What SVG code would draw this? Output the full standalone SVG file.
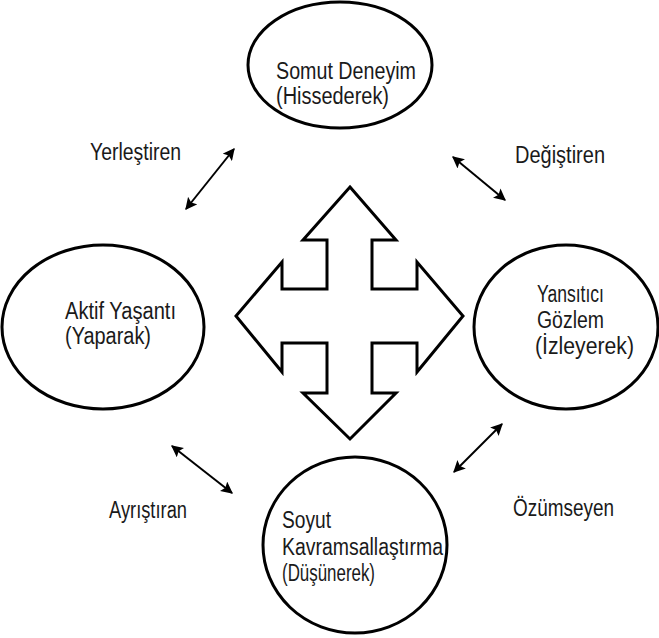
<svg xmlns="http://www.w3.org/2000/svg" width="659" height="638" viewBox="0 0 659 638">
<defs>
<style>
.node ellipse{fill:#fff;stroke:#000;stroke-width:3}
.t{font-family:"Liberation Sans",Arial,sans-serif;font-size:23px;fill:#1a1a1a}
.conn line{stroke:#000;stroke-width:2}
</style>
<marker id="ah" viewBox="0 0 10 10" refX="9" refY="5" markerWidth="6" markerHeight="6" orient="auto-start-reverse" markerUnits="strokeWidth">
<path d="M0,0 L10,5 L0,10 L2,5 Z" fill="#000"/>
</marker>
</defs>
<rect width="659" height="638" fill="#fff"/>
<g id="cross">
<path d="M350,187 L396,240 L372,240 L372,289 L417,289 L417,262 L463,316 L417,372 L417,343 L372,343 L372,393 L396,393 L350,439 L303,393 L327,393 L327,343 L282,343 L282,372 L236,316 L282,262 L282,289 L327,289 L327,240 L303,240 Z" fill="#fff" stroke="#000" stroke-width="3" stroke-linejoin="miter"/>
</g>
<g id="somut" class="node">
<ellipse cx="340" cy="65" rx="92" ry="63"/>
<text class="t" x="276" y="79" textLength="140" lengthAdjust="spacingAndGlyphs">Somut Deneyim</text>
<text class="t" x="276" y="104" textLength="113" lengthAdjust="spacingAndGlyphs">(Hissederek)</text>
</g>
<g id="aktif" class="node">
<ellipse cx="103" cy="327" rx="101" ry="82"/>
<text class="t" x="65" y="319" textLength="111" lengthAdjust="spacingAndGlyphs">Aktif Yaşantı</text>
<text class="t" x="65" y="344" textLength="86" lengthAdjust="spacingAndGlyphs">(Yaparak)</text>
</g>
<g id="yansitici" class="node">
<ellipse cx="566" cy="327" rx="92" ry="82"/>
<text class="t" x="537" y="302" textLength="67" lengthAdjust="spacingAndGlyphs">Yansıtıcı</text>
<text class="t" x="537" y="328" textLength="67" lengthAdjust="spacingAndGlyphs">Gözlem</text>
<text class="t" x="535" y="354" textLength="99" lengthAdjust="spacingAndGlyphs">(İzleyerek)</text>
</g>
<g id="soyut" class="node">
<ellipse cx="355" cy="545" rx="92" ry="88"/>
<text class="t" x="282" y="528" textLength="49" lengthAdjust="spacingAndGlyphs">Soyut</text>
<text class="t" x="282" y="555" textLength="161" lengthAdjust="spacingAndGlyphs">Kavramsallaştırma</text>
<text class="t" x="282" y="581" textLength="93" lengthAdjust="spacingAndGlyphs">(Düşünerek)</text>
</g>
<g id="connectors" class="conn">
<line x1="186" y1="209" x2="234" y2="149" marker-start="url(#ah)" marker-end="url(#ah)"/>
<line x1="453" y1="157" x2="505" y2="200" marker-start="url(#ah)" marker-end="url(#ah)"/>
<line x1="172" y1="446" x2="232" y2="493" marker-start="url(#ah)" marker-end="url(#ah)"/>
<line x1="502" y1="424" x2="454" y2="472" marker-start="url(#ah)" marker-end="url(#ah)"/>
</g>
<g id="labels">
<text class="t" x="90" y="160" textLength="91" lengthAdjust="spacingAndGlyphs">Yerleştiren</text>
<text class="t" x="515" y="163" textLength="90" lengthAdjust="spacingAndGlyphs">Değiştiren</text>
<text class="t" x="109" y="518" textLength="78" lengthAdjust="spacingAndGlyphs">Ayrıştıran</text>
<text class="t" x="513" y="516" textLength="101" lengthAdjust="spacingAndGlyphs">Özümseyen</text>
</g>
</svg>
